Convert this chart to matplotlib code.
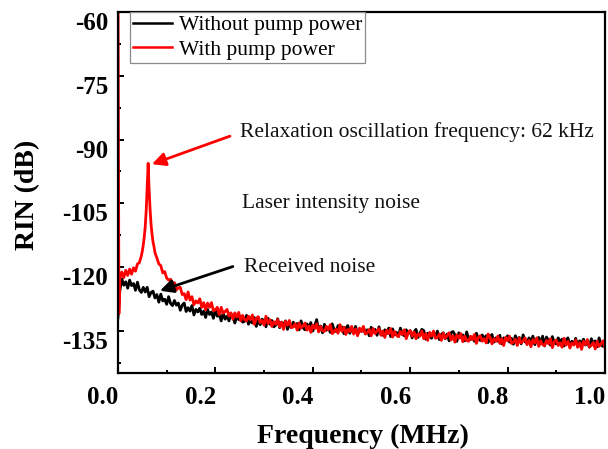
import numpy as np
import matplotlib
matplotlib.use("Agg")
import matplotlib.pyplot as plt
import matplotlib.transforms as mtransforms

plt.rcParams["font.family"] = ["Liberation Serif", "DejaVu Serif"]

# ---------------- data (frequency in MHz, RIN in dB) ----------------
# Without pump power: 0.000 ... 1.000 MHz, step 0.004
rin_without = [
    -132.0, -125.5, -122.8, -124.3, -123.5, -125.0, -123.1, -124.4, -123.9, -125.5,
    -123.6, -125.4, -126.0, -124.8, -125.9, -124.8, -127.0, -126.0, -125.7, -127.3,
    -126.5, -128.3, -126.4, -128.0, -127.6, -128.8, -127.0, -128.6, -129.1, -127.9,
    -129.0, -128.5, -130.2, -129.0, -128.5, -130.5, -129.6, -130.4, -129.1, -131.3,
    -130.0, -130.6, -129.7, -131.2, -130.4, -131.9, -130.0, -131.2, -130.6, -132.1,
    -130.1, -131.6, -131.2, -132.7, -130.8, -132.3, -131.6, -132.7, -131.0, -131.7,
    -133.2, -131.7, -132.4, -131.6, -133.0, -132.8, -131.4, -133.5, -132.6, -133.2,
    -131.9, -134.0, -132.5, -133.6, -132.3, -132.8, -134.1, -132.1, -133.5, -132.6,
    -134.1, -133.7, -132.2, -134.3, -133.0, -133.7, -132.7, -134.7, -133.4, -134.3,
    -133.0, -134.0, -133.3, -134.8, -132.7, -134.3, -134.8, -133.4, -134.3, -133.1,
    -135.1, -133.9, -132.4, -134.9, -133.9, -135.5, -133.5, -134.9, -134.3, -135.4,
    -133.4, -134.9, -135.2, -133.8, -134.8, -134.1, -135.7, -134.4, -133.8, -135.6,
    -134.6, -135.4, -134.0, -136.0, -134.7, -135.2, -134.2, -135.7, -134.8, -136.2,
    -134.2, -135.4, -134.7, -136.1, -134.1, -135.7, -136.1, -134.8, -135.7, -134.4,
    -136.4, -134.6, -136.0, -135.4, -136.4, -134.4, -135.9, -136.2, -134.8, -135.7,
    -135.0, -136.7, -135.3, -134.7, -136.6, -135.6, -134.7, -135.0, -137.0, -135.6,
    -136.1, -136.8, -135.4, -136.3, -135.1, -137.1, -135.9, -135.5, -136.9, -135.8,
    -137.4, -135.5, -135.2, -136.0, -137.5, -135.5, -136.6, -136.0, -137.4, -135.3,
    -136.9, -137.1, -136.5, -137.5, -135.6, -137.0, -137.3, -136.0, -136.9, -136.2,
    -137.8, -136.5, -135.9, -137.7, -136.7, -137.5, -136.1, -138.1, -136.7, -137.2,
    -136.2, -137.7, -136.8, -138.2, -136.2, -137.3, -136.6, -138.1, -136.0, -137.6,
    -138.0, -136.7, -137.6, -136.3, -138.3, -137.1, -136.6, -138.1, -136.3, -138.6,
    -136.5, -137.4, -138.4, -136.4, -137.8, -138.1, -136.7, -137.6, -137.0, -138.6,
    -137.2, -136.7, -138.5, -137.5, -138.2, -136.8, -138.8, -137.4, -138.0, -137.0,
    -138.4, -137.5, -138.9, -136.9, -138.0, -137.4, -138.8, -136.7, -138.3, -138.7,
    -137.3,
]
freq_without = np.round(np.arange(len(rin_without)) * 0.004, 3)

# With pump power: low-frequency part, relaxation-oscillation peak, tail
freq_with_low = [0.000, 0.002, 0.004, 0.008, 0.012, 0.016, 0.020, 0.024,
                 0.028, 0.032, 0.036, 0.040, 0.044, 0.048]
rin_with_low = [-50.0, -131.0, -122.6, -121.2, -122.5, -120.8, -122.0, -120.5,
                -121.7, -120.2, -121.0, -119.3, -119.0, -117.4]

freq_with_peak = [0.050, 0.052, 0.054, 0.056, 0.058, 0.060, 0.062, 0.064,
                  0.066, 0.068, 0.070, 0.072, 0.074, 0.076, 0.078]
rin_with_peak = [-116.3, -114.8, -113.0, -110.5, -106.8, -101.5, -95.6, -101.8,
                 -106.5, -110.0, -112.3, -114.1, -115.2, -116.6, -117.3]

# tail: 0.080 ... 1.000 MHz, step 0.004
rin_with_tail = [
    -117.9, -119.3, -119.7, -121.4, -121.1, -122.6,
    -123.1, -122.9, -123.8, -123.7, -125.4,
    -124.9, -124.8, -126.5, -126.3, -127.7,
    -125.9, -127.8, -127.0, -128.9, -128.0,
    -128.5, -127.5, -129.5, -128.4, -130.1,
    -128.5, -129.5, -128.4, -130.3, -130.1,
    -129.5, -131.2, -129.5, -130.9, -130.5, -130.0, -131.6, -130.8, -132.3, -130.8,
    -131.8, -130.7, -132.7, -131.4, -132.4, -132.7, -131.6, -132.4, -131.3, -133.5,
    -132.2, -131.7, -133.1, -132.6, -133.7, -131.6, -133.3, -132.4, -134.0, -132.9,
    -133.5, -132.4, -134.1, -133.0, -134.7, -132.8, -133.7, -132.6, -134.3, -134.1,
    -133.4, -134.9, -133.2, -134.4, -133.9, -133.2, -134.9, -133.9, -135.4, -133.7,
    -134.5, -133.4, -135.3, -134.0, -135.0, -135.2, -134.0, -134.8, -133.6, -135.7,
    -135.2, -134.6, -135.6, -133.6, -135.2, -134.2, -135.9, -134.7, -135.2, -134.0,
    -135.8, -134.6, -136.2, -134.4, -135.2, -134.0, -135.8, -135.5, -134.7, -136.2,
    -134.5, -135.7, -135.1, -134.5, -136.1, -135.1, -136.6, -134.9, -135.7, -134.5,
    -136.5, -135.2, -136.1, -136.4, -135.2, -135.9, -134.8, -136.9, -135.5, -135.0,
    -136.3, -135.3, -136.9, -135.8, -136.3, -135.1, -136.9, -135.7, -137.3, -135.4,
    -136.3, -135.1, -136.8, -136.6, -135.8, -137.3, -135.6, -136.8, -136.2, -135.5,
    -137.2, -136.2, -137.7, -136.0, -136.8, -135.7, -137.6, -136.3, -137.3, -137.5,
    -136.3, -137.1, -135.9, -138.0, -136.6, -136.2, -137.5, -136.9, -137.9, -135.8,
    -136.5, -138.1, -136.9, -137.5, -136.3, -138.0, -136.9, -138.5, -136.6, -137.4,
    -136.3, -138.0, -137.7, -137.0, -138.5, -136.7, -137.9, -137.4, -136.7, -138.3,
    -137.3, -138.8, -137.1, -137.9, -136.7, -138.7, -137.4, -138.3, -138.5, -137.3,
    -138.1, -136.9, -139.0, -137.6, -137.2, -138.5, -137.9, -138.9, -136.8, -138.4,
    -137.5, -139.1, -137.9, -138.4, -137.2, -138.9, -137.8, -139.4, -137.5, -138.3,
    -137.1, -138.8, -138.5, -137.8, -139.3, -137.5, -138.7, -138.1, -137.4, -139.0,
]
freq_with_tail = np.round(0.080 + np.arange(len(rin_with_tail)) * 0.004, 3)

freq_with = np.concatenate([freq_with_low, freq_with_peak, freq_with_tail])
rin_with = np.concatenate([rin_with_low, rin_with_peak, rin_with_tail])

x_ticks = [0.0, 0.2, 0.4, 0.6, 0.8, 1.0]
x_tick_labels = ["0.0", "0.2", "0.4", "0.6", "0.8", "1.0"]
y_ticks = [-135, -120, -105, -90, -75, -60]
y_tick_labels = ["-135", "-120", "-105", "-90", "-75", "-60"]

# ---------------- figure ----------------
fig = plt.figure(figsize=(6.08, 4.49), dpi=100)
ax = fig.add_axes([0.194, 0.169, 0.801, 0.804])

ax.plot(freq_without, rin_without, color="black", lw=2.0, label="Without pump power")
ax.plot(freq_with, rin_with, color="#ff0000", lw=2.0, label="With pump power")

ax.set_xlim(0.0, 1.0)
ax.set_ylim(-145, -60)

ax.set_xticks(x_ticks)
ax.set_xticklabels(x_tick_labels)
ax.set_yticks(y_ticks)
ax.set_yticklabels(y_tick_labels)
ax.set_xticks(np.arange(0.1, 1.0, 0.2), minor=True)
ax.set_yticks(np.arange(-142.5, -60, 15), minor=True)

for s in ax.spines.values():
    s.set_linewidth(1.6)

ax.tick_params(which="both", direction="in", top=False, right=False,
               width=1.4, labelsize=18)
ax.tick_params(which="major", length=4.5)
ax.tick_params(which="minor", length=2.5)
ax.tick_params(axis="y", pad=7)
ax.tick_params(axis="x", pad=9)
for lab in ax.get_xticklabels() + ax.get_yticklabels():
    lab.set_fontweight("bold")

# tick label placement offsets
dx = mtransforms.ScaledTranslation(-15 / 100, 0, fig.dpi_scale_trans)
dy = mtransforms.ScaledTranslation(0, -9 / 100, fig.dpi_scale_trans)
for lab in ax.get_xticklabels():
    lab.set_transform(lab.get_transform() + dx)
for lab in ax.get_yticklabels():
    lab.set_transform(lab.get_transform() + dy)

ax.set_xlabel("Frequency (MHz)", fontsize=20, fontweight="bold")
ax.set_ylabel("RIN (dB)", fontsize=20, fontweight="bold")
ax.xaxis.set_label_coords(0.503, -0.14)
ax.yaxis.set_label_coords(-0.160, 0.493)

leg = ax.legend(loc="upper left", bbox_to_anchor=(0.025, 1.0), borderaxespad=0,
                fontsize=15.5, handlelength=1.8, handletextpad=0.3,
                borderpad=0.15, labelspacing=0.2, fancybox=False,
                framealpha=1, edgecolor="#8a8a8a")
leg.get_frame().set_linewidth(0.9)
for line in leg.get_lines():
    line.set_linewidth(1.8)

# annotations
ax.annotate("", xy=(0.0698, -95.8), xytext=(0.230, -89.2),
            arrowprops=dict(arrowstyle="-|>", color="#ff0000", lw=2.0,
                            mutation_scale=20, shrinkA=0, shrinkB=0))
ax.text(0.25, -88.2, "Relaxation oscillation frequency: 62 kHz",
        fontsize=15.5, va="center", ha="left", color="#111111")
ax.text(0.255, -105.0, "Laser intensity noise",
        fontsize=15.5, va="center", ha="left", color="#111111")
ax.annotate("", xy=(0.0862, -125.6), xytext=(0.236, -119.9),
            arrowprops=dict(arrowstyle="-|>", color="black", lw=2.0,
                            mutation_scale=20, shrinkA=0, shrinkB=0))
ax.text(0.258, -120.1, "Received noise",
        fontsize=15.5, va="center", ha="left", color="#111111")

fig.savefig("out.png", dpi=100)
